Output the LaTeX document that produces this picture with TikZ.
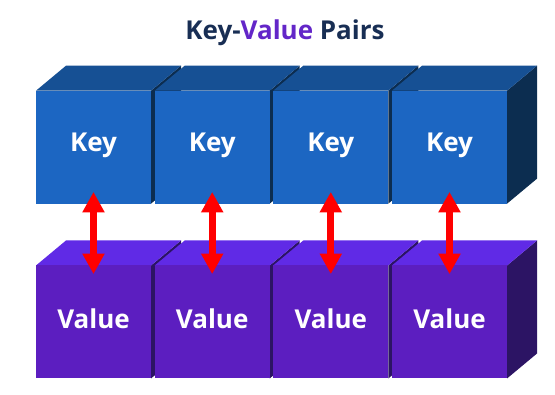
\documentclass[tikz,border=0pt]{standalone}
\usepackage{fontspec}
\setmainfont{Open Sans}
\usetikzlibrary{arrows.meta}
\definecolor{keyF}{RGB}{28,102,194}
\definecolor{keyT}{RGB}{22,80,148}
\definecolor{keyS}{RGB}{12,45,80}
\definecolor{valF}{RGB}{92,30,192}
\definecolor{valT}{RGB}{96,42,230}
\definecolor{valS}{RGB}{44,20,100}
\definecolor{titleNavy}{RGB}{24,46,84}
\definecolor{titlePurple}{RGB}{99,38,200}
\tikzset{
  frontface/.style={rectangle, minimum width=115pt, minimum height=113pt, inner sep=0pt, draw=none},
  cubelabel/.style={text=white, font=\fontsize{26}{30}\selectfont\bfseries, anchor=base, inner sep=0pt},
  pairarrow/.style={draw=red, line width=7pt, {Triangle[width=21pt,length=20.5pt]}-{Triangle[width=21pt,length=20.5pt]}},
}
% #1 x0, #2 ytop, #3 front, #4 top, #5 side, #6 name, #7 text, #8 baseline offset
\newcommand{\mycube}[8]{%
  \fill[#5] (#1+115,#2) -- (#1+145,#2-25) -- (#1+145,#2+88) -- (#1+115,#2+113) -- cycle;
  \fill[#4] (#1,#2) -- (#1+115,#2) -- (#1+145,#2-25) -- (#1+30,#2-25) -- cycle;
  \node[frontface, fill=#3] (#6) at (#1+57.5,#2+56.5) {};
  \node[cubelabel] (#6t) at (#1+57.5,#2+#8) {#7};
}
\begin{document}
\begin{tikzpicture}[x=1pt,y=-1pt]
\useasboundingbox (0,0) rectangle (555,395);
\node[anchor=base, inner sep=0pt, font=\fontsize{26}{30}\selectfont\bfseries, text=titleNavy] (title) at (285,39.3) {Key-\textcolor{titlePurple}{Value} Pairs};
\mycube{36}{90.7}{keyF}{keyT}{keyS}{k1}{Key}{61.3}
\mycube{154.7}{90.7}{keyF}{keyT}{keyS}{k2}{Key}{61.3}
\mycube{273.3}{90.7}{keyF}{keyT}{keyS}{k3}{Key}{61.3}
\mycube{392}{90.7}{keyF}{keyT}{keyS}{k4}{Key}{61.3}
\mycube{36}{265.5}{valF}{valT}{valS}{v1}{Value}{63.5}
\mycube{154.7}{265.5}{valF}{valT}{valS}{v2}{Value}{63.5}
\mycube{273.3}{265.5}{valF}{valT}{valS}{v3}{Value}{63.5}
\mycube{392}{265.5}{valF}{valT}{valS}{v4}{Value}{63.5}
\foreach \i in {1,2,3,4}{
  \draw[pairarrow] ([yshift=12pt]k\i.south) -- ([yshift=-8.8pt]v\i.north);
}
\end{tikzpicture}
\end{document}
